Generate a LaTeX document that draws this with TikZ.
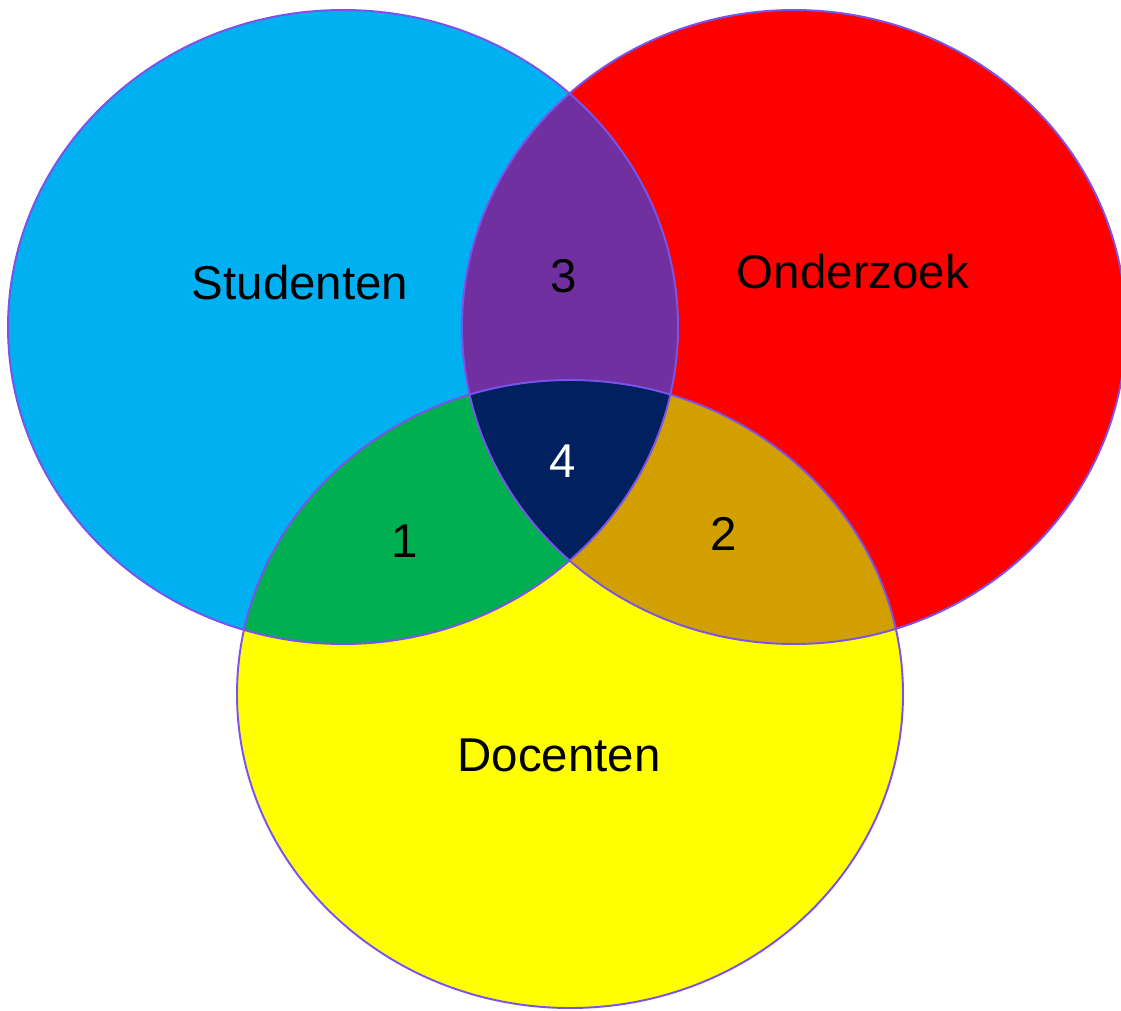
\documentclass[tikz,border=0pt]{standalone}
\usepackage{fontspec}
\setmainfont{Liberation Sans}
\definecolor{studblue}{HTML}{00B0F0}
\definecolor{onderred}{HTML}{FF0000}
\definecolor{docyellow}{HTML}{FFFF00}
\definecolor{sopurple}{HTML}{7030A0}
\definecolor{sdgreen}{HTML}{00B050}
\definecolor{odorange}{HTML}{D29F00}
\definecolor{allnavy}{HTML}{002060}
\definecolor{rimline}{HTML}{7B52EC}
\newcommand\studpath{(343,327) ellipse [x radius=335, y radius=317]}
\newcommand\onderpath{(794,327) ellipse [x radius=332, y radius=317]}
\newcommand\docpath{(570,694) ellipse [x radius=333, y radius=314]}
\begin{document}
\begin{tikzpicture}[x=0.02cm,y=-0.02cm,
  rim/.style={draw=rimline,line width=1.1pt},
  lbl/.style={font=\fontsize{27}{32}\selectfont,text=black,inner sep=0pt}]
\useasboundingbox (0,0) rectangle (1121,1010);
\fill[studblue] \studpath;
\fill[onderred] \onderpath;
\fill[docyellow] \docpath;
\begin{scope}
  \clip \studpath;
  \fill[sopurple] \onderpath;
  \fill[sdgreen] \docpath;
\end{scope}
\begin{scope}
  \clip \onderpath;
  \fill[odorange] \docpath;
\end{scope}
\begin{scope}
  \clip \studpath;
  \clip \onderpath;
  \fill[allnavy] \docpath;
\end{scope}
\draw[rim] \studpath;
\draw[rim] \onderpath;
\draw[rim] \docpath;
\node[lbl] (studenten) at (300,283) {Studenten};
\node[lbl] (onderzoek) at (853,272) {Onderzoek};
\node[lbl] (docenten) at (559,755) {Docenten};
\node[lbl] (drie) at (564,276) {3};
\node[lbl,text=white] (vier) at (563,461) {4};
\node[lbl] (een) at (405,541) {1};
\node[lbl] (twee) at (724,534) {2};
\end{tikzpicture}
\end{document}
